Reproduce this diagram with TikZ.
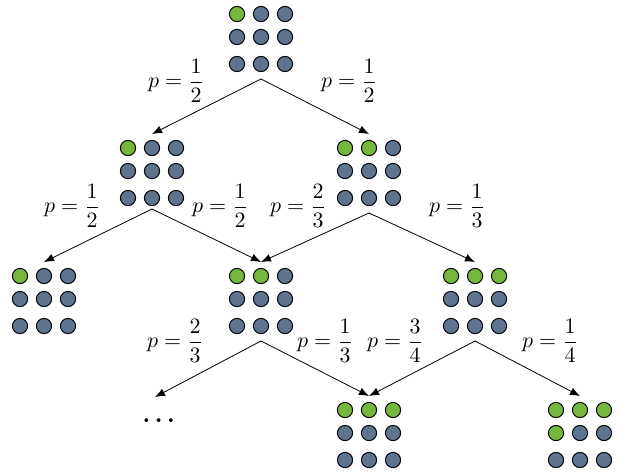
\documentclass[tikz,border=0pt]{standalone}
\usepackage{amsmath}
\usetikzlibrary{arrows.meta}
\definecolor{urngreen}{RGB}{118,184,62}
\definecolor{urnblue}{RGB}{94,116,143}
\tikzset{
  ball/.style = {draw, line width = 0.5pt},
  prob/.style = {font = \fontsize{10.95}{13}\selectfont}
}
% name, x, y of the top row, number of green balls
\newcommand{\urn}[4]{
  \foreach \r/\dy in {0/0, 1/23, 2/50} {
    \foreach \c in {0, 1, 2} {
      \pgfmathtruncatemacro{\k}{3*\r + \c}
      \ifnum\k<#4 \def\col{urngreen}\else\def\col{urnblue}\fi
      \path[ball, fill = \col] (#2 - 24 + 24*\c, #3 + \dy) circle[radius = 3.8pt];
    }
  }
  \coordinate (#1-top) at (#2, #3 - 14);
  \coordinate (#1-bot) at (#2, #3 + 65);
}

\begin{document}
\begin{tikzpicture}[x = 0.5pt, y = -0.5pt, line cap = round, line join = round,
  > = {Latex[length = 5pt, width = 4pt]}]
  \useasboundingbox (0, 0) rectangle (620, 472);

  \urn{g0}{261}{14}{1}
  \urn{g1}{152}{148}{1}
  \urn{g2}{369}{148}{2}
  \urn{g3}{44}{276}{1}
  \urn{g4}{261}{276}{2}
  \urn{g5}{475}{276}{3}
  \urn{g6}{369}{410}{3}
  \urn{g7}{580}{410}{4}
  \coordinate (g1-bot) at (152, 209); % this one sits closer

  \node[font = \large] (dots) at (161, 421) {$\boldsymbol{\dots}$};
  \coordinate (dots-top) at (155, 397);

  \draw[->] (g0-bot) -- (g1-top);
  \draw[->] (g0-bot) -- (g2-top);
  \draw[->] (g1-bot) -- (g3-top);
  \draw[->] (g1-bot) -- (g4-top);
  \draw[->] (g2-bot) -- (g4-top);
  \draw[->] (g2-bot) -- (g5-top);
  \draw[->] (g4-bot) -- (dots-top);
  \draw[->] (g4-bot) -- (g6-top);
  \draw[->] (g5-bot) -- (g6-top);
  \draw[->] (g5-bot) -- (g7-top);

  \node[prob] (p01) at (176, 81) {$p = \dfrac{1}{2}$};
  \node[prob] (p02) at (349, 81) {$p = \dfrac{1}{2}$};
  \node[prob] (p13) at (72, 206) {$p = \dfrac{1}{2}$};
  \node[prob] (p14) at (220, 206) {$p = \dfrac{1}{2}$};
  \node[prob] (p24) at (298, 206) {$p = \dfrac{2}{3}$};
  \node[prob] (p25) at (457, 206) {$p = \dfrac{1}{3}$};
  \node[prob] (p4d) at (175, 341) {$p = \dfrac{2}{3}$};
  \node[prob] (p46) at (325, 341) {$p = \dfrac{1}{3}$};
  \node[prob] (p56) at (395, 341) {$p = \dfrac{3}{4}$};
  \node[prob] (p57) at (550, 341) {$p = \dfrac{1}{4}$};
\end{tikzpicture}
\end{document}
